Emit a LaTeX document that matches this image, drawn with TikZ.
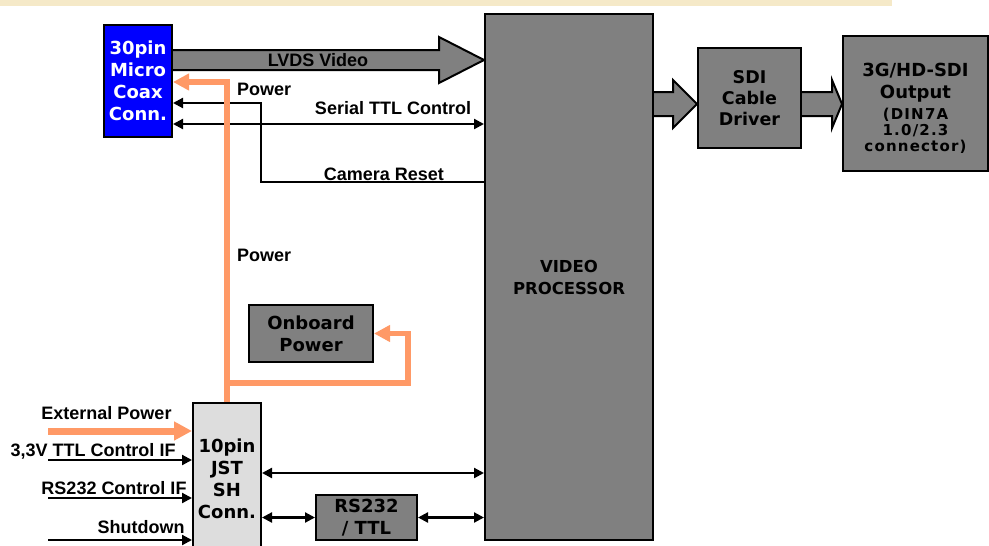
\documentclass[tikz,border=0pt]{standalone}
\usepackage{fontspec}
\setmainfont{Liberation Sans}
\newfontfamily\boxfont{DejaVu Sans}
\newfontfamily\dinfont[LetterSpace=8]{DejaVu Sans}
\usepackage{tikz}
\usetikzlibrary{arrows.meta,positioning,calc}
\definecolor{ink}{HTML}{000000}
\definecolor{coaxblue}{HTML}{0000FF}
\definecolor{blockgray}{HTML}{808080}
\definecolor{jstgray}{HTML}{DDDDDD}
\definecolor{pwrorange}{HTML}{FF9966}
\definecolor{bandbeige}{HTML}{F5E9C8}
\tikzset{
  >={Triangle[length=10pt,width=10pt]},
  block/.style={draw=ink,line width=2pt,fill=blockgray,inner sep=0pt,align=center,
    font=\boxfont\bfseries\fontsize{18}{22}\selectfont},
  sig/.style={line width=2.2pt,color=ink},
  pwr/.style={line width=5.5pt,color=pwrorange,-{Triangle[length=16pt,width=16pt]}},
  fat/.style={draw=ink,fill=blockgray,line width=2pt,line join=miter},
  lbl/.style={font=\bfseries\fontsize{18}{22}\selectfont,inner sep=0pt},
}
\newcommand{\dinsize}{\dinfont\bfseries\fontsize{15}{15}\selectfont}
\newcommand{\fatarrow}[5]{%
  \draw[fat] let \p1=(#1), \p2=(#2) in
    (\x1,\y1+#3) -- (\x2-#5,\y1+#3) -- (\x2-#5,\y1+#4) -- (\x2,\y1)
    -- (\x2-#5,\y1-#4) -- (\x2-#5,\y1-#3) -- (\x1,\y1-#3);}

\begin{document}
\begin{tikzpicture}[x=1pt,y=1pt]
  \clip (0,0) rectangle (989,-546);
  \fill[bandbeige] (0,0) rectangle (892,-6);
  \node[block,fill=coaxblue,text=white,minimum width=68pt,minimum height=112pt] (micro) at (138,-81) {30pin\\Micro\\Coax\\Conn.};
  \node[block,minimum width=168pt,minimum height=526pt,font=\boxfont\bfseries\fontsize{16.5}{22}\selectfont] (vp) at (569,-277) {VIDEO\\PROCESSOR};
  \node[block,minimum width=103pt,minimum height=100pt,font=\boxfont\bfseries\fontsize{17.5}{21}\selectfont] (sdi) at (749.5,-98) {SDI\\Cable\\Driver};
  \node[block,minimum width=145pt,minimum height=135pt] (out) at (915.5,-103.5) {};
  \node[font=\boxfont\bfseries\fontsize{18}{22}\selectfont,align=center,inner sep=0pt] (outtxt) at (915.5,-108)
    {3G/HD-SDI\\Output\\[-1pt]\dinsize(DIN7A\\[-6pt]\dinsize 1.0/2.3\\[-6pt]\dinsize connector)};
  \node[block,minimum width=124pt,minimum height=57pt] (onb) at (311,-333.5) {Onboard\\Power};
  \node[block,fill=jstgray,minimum width=68pt,minimum height=152pt] (jst) at (227,-479) {10pin\\JST\\SH\\Conn.};
  \node[block,minimum width=101pt,minimum height=45pt] (rs) at (366.5,-517.5) {RS232\\/ TTL};

  \fatarrow{micro.east |- 0,-60}{vp.west |- 0,-60}{10pt}{23pt}{45pt}
  \fatarrow{vp.east |- 0,-104}{sdi.west |- 0,-104}{12pt}{24pt}{24pt}
  \fatarrow{sdi.east |- 0,-104}{out.west |- 0,-104}{12pt}{24pt}{10pt}
  \node[lbl] (lvds) at (318,-60) {LVDS Video};

  \draw[sig,<->] (micro.east |- 0,-124) -- (vp.west |- 0,-124);
  \node[lbl] (serial) at (393,-108) {Serial TTL Control};
  \coordinate (rstturn) at (261,-182);
  \draw[sig,<-] (micro.east |- 0,-103) -| (rstturn) -- (vp.west |- rstturn);
  \node[lbl] (reset) at (384,-174) {Camera Reset};

  \draw[pwr] (jst.north) |- (micro.east |- 0,-82);
  \node[lbl,anchor=west] (pwrtop) at (237,-89) {Power};
  \node[lbl,anchor=west] (pwrmid) at (237,-255) {Power};
  \coordinate (obturn) at (408,-383);
  \draw[pwr] (jst.north |- obturn) -- (obturn) |- (onb.east);

  \coordinate (extin) at (48,-431);
  \draw[pwr,line width=7pt,-{Triangle[length=18pt,width=18pt]}] (extin) -- (jst.west |- extin);
  \foreach \yy in {460,498,540}
    {\coordinate (in\yy) at (48,-\yy);
     \draw[sig,->] (in\yy) -- (jst.west |- in\yy);}
  \node[lbl] (extlbl) at (106.5,-413) {External Power};
  \node[lbl] (ttllbl) at (93,-451) {3,3V TTL Control IF};
  \node[lbl] (rslbl) at (114,-488) {RS232 Control IF};
  \node[lbl] (shutlbl) at (141,-527) {Shutdown};

  \draw[sig,<->] (jst.east |- 0,-473) -- (vp.west |- 0,-473);
  \draw[sig,<->] (jst.east |- rs.west) -- (rs.west);
  \draw[sig,<->] (rs.east) -- (vp.west |- rs.east);
\end{tikzpicture}
\end{document}
